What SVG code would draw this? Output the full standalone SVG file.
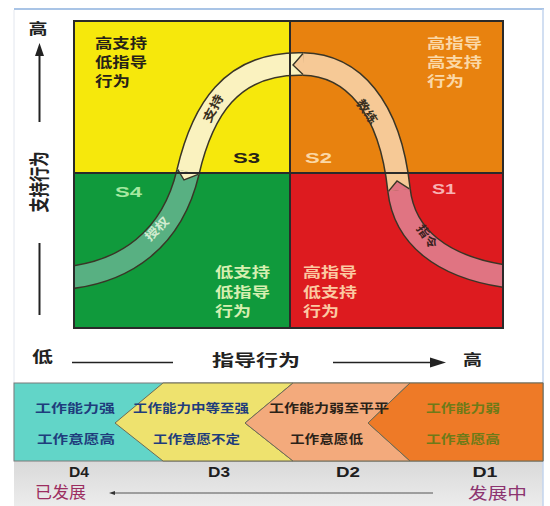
<svg xmlns="http://www.w3.org/2000/svg" width="550" height="506" viewBox="0 0 550 506">
  <defs>
    <style>
      .cjk { font-family: "Noto Sans CJK SC", "Noto Sans", sans-serif; }
      .b { font-weight: bold; }
      .lat { font-family: "Liberation Sans", Arial, sans-serif; }
      .grid { fill: none; stroke: #2a2a2a; stroke-width: 2; }
      .edge { fill: none; stroke: #3a3526; stroke-width: 24; stroke-linecap: butt; }
      .band { fill: none; stroke-width: 21; stroke-linecap: butt; }
      .vee { fill: none; stroke: #3a3526; stroke-width: 1.4; stroke-linejoin: miter; }
      .chev { stroke: #6d6a55; stroke-width: 1; }
      .qt { font-size: 14px; }
      .st { font-size: 12px; }
    </style>
    <clipPath id="gridClip">
      <rect x="74" y="21" width="429" height="307"/>
    </clipPath>
    <linearGradient id="floor" x1="0" y1="0" x2="0" y2="1">
      <stop offset="0" stop-color="#d9d9d9"/>
      <stop offset="1" stop-color="#ececec"/>
    </linearGradient>
  </defs>

  <!-- page -->
  <rect x="0" y="0" width="550" height="506" fill="#ffffff"/>
  <rect x="14" y="461" width="529" height="45" fill="url(#floor)"/>
  <line x1="14" y1="9" x2="544" y2="9" stroke="#a9c4e6" stroke-width="2"/>
  <line x1="543" y1="9" x2="543" y2="506" stroke="#c3d5ee" stroke-width="1.5"/>
  <line x1="14" y1="10" x2="14" y2="461" stroke="#e2e6ee" stroke-width="1"/>

  <!-- quadrants -->
  <g id="quadrants">
    <rect id="q-tl" x="74" y="21" width="216" height="152" fill="#f6e80c"/>
    <rect id="q-tr" x="290" y="21" width="213" height="152" fill="#e8820f"/>
    <rect id="q-bl" x="74" y="173" width="216" height="155" fill="#109a3c"/>
    <rect id="q-br" x="290" y="173" width="213" height="155" fill="#dd1b1f"/>
  </g>

  <!-- leadership curve -->
  <g id="curve" clip-path="url(#gridClip)">
    <path class="edge" d="M66,278 C125,272 172,240 188,172"/>
    <path class="edge" d="M188,172 C202,112 230,62 303,64"/>
    <path class="edge" d="M303,64 C352,65 390,105 399,190"/>
    <path class="edge" d="M399,190 C404,235 440,268 511,277"/>
    <path class="band" stroke="#58b082" d="M66,278 C125,272 172,240 188,172"/>
    <path class="band" stroke="#faf2bf" d="M188,172 C202,112 230,62 303,64"/>
    <path class="band" stroke="#f6c996" d="M303,64 C352,65 390,105 399,190"/>
    <path class="band" stroke="#e07482" d="M399,190 C404,235 440,268 511,277"/>
    <!-- arrow tips between stages -->
    <polygon points="177.8,169.6 184,180 198.2,174.4" fill="#faf2bf"/>
    <polyline class="vee" points="177.8,169.6 184,180 198.2,174.4"/>
    <polygon points="303,53.5 293,65 303,74.5" fill="#f6c996"/>
    <polyline class="vee" points="303,53.5 293,65 303,74.5"/>
    <polygon points="388.6,191.1 397,181 409.4,188.9" fill="#e07482"/>
    <polyline class="vee" points="388.6,191.1 397,181 409.4,188.9"/>
  </g>
  <g id="grid-lines">
    <rect class="grid" x="74" y="21" width="429" height="307"/>
    <line class="grid" x1="290" y1="21" x2="290" y2="328"/>
    <line class="grid" x1="74" y1="173" x2="503" y2="173"/>
  </g>

  <!-- curve labels -->
  <g id="curve-labels" class="cjk b" font-size="12" text-anchor="middle" dominant-baseline="central">
    <text transform="translate(212,108) rotate(-63)" fill="#3a3020" textLength="30" lengthAdjust="spacingAndGlyphs">支持</text>
    <text transform="translate(368,111) rotate(55)" fill="#3a3020" textLength="27" lengthAdjust="spacingAndGlyphs">教练</text>
    <text transform="translate(428,236) rotate(55)" fill="#3a2020" textLength="26" lengthAdjust="spacingAndGlyphs">指令</text>
    <text transform="translate(156,228) rotate(-45)" fill="#d2ecd0" textLength="28" lengthAdjust="spacingAndGlyphs">授权</text>
  </g>

  <!-- quadrant texts -->
  <g id="quad-tl" class="cjk b qt" fill="#262218">
    <text x="95" y="48" textLength="52" lengthAdjust="spacingAndGlyphs">高支持</text>
    <text x="95" y="67" textLength="52" lengthAdjust="spacingAndGlyphs">低指导</text>
    <text x="95" y="86" textLength="35" lengthAdjust="spacingAndGlyphs">行为</text>
    <text class="lat" x="233" y="163" font-size="15" fill="#262218" textLength="27" lengthAdjust="spacingAndGlyphs">S3</text>
  </g>
  <g id="quad-tr" class="cjk b qt" fill="#fbd8a6">
    <text x="427" y="48" textLength="55" lengthAdjust="spacingAndGlyphs">高指导</text>
    <text x="427" y="67" textLength="55" lengthAdjust="spacingAndGlyphs">高支持</text>
    <text x="427" y="86" textLength="37" lengthAdjust="spacingAndGlyphs">行为</text>
    <text class="lat" x="305" y="163" font-size="15" textLength="27" lengthAdjust="spacingAndGlyphs">S2</text>
  </g>
  <g id="quad-bl" class="cjk b qt" fill="#d6efb0">
    <text x="215" y="277" textLength="55" lengthAdjust="spacingAndGlyphs">低支持</text>
    <text x="215" y="297" textLength="55" lengthAdjust="spacingAndGlyphs">低指导</text>
    <text x="215" y="316" textLength="36" lengthAdjust="spacingAndGlyphs">行为</text>
    <text class="lat" x="115" y="197" font-size="15" fill="#a6e8a0" textLength="27" lengthAdjust="spacingAndGlyphs">S4</text>
  </g>
  <g id="quad-br" class="cjk b qt" fill="#fbc9a2">
    <text x="303" y="277" textLength="54" lengthAdjust="spacingAndGlyphs">高指导</text>
    <text x="303" y="297" textLength="54" lengthAdjust="spacingAndGlyphs">低支持</text>
    <text x="303" y="316" textLength="36" lengthAdjust="spacingAndGlyphs">行为</text>
    <text class="lat" x="432" y="194" font-size="15" fill="#f8b2b2" textLength="24" lengthAdjust="spacingAndGlyphs">S1</text>
  </g>

  <!-- vertical axis -->
  <g id="axis-support" fill="#222">
    <text class="cjk b" x="38" y="34" font-size="15" text-anchor="middle" textLength="19" lengthAdjust="spacingAndGlyphs">高</text>
    <polygon points="39.5,43 35,56 44,56"/>
    <line x1="39.5" y1="55" x2="39.5" y2="122" stroke="#222" stroke-width="2"/>
    <text class="cjk b" transform="translate(37,182) scale(1.3,1) rotate(-90)" font-size="16" text-anchor="middle" dominant-baseline="central" textLength="61" lengthAdjust="spacingAndGlyphs">支持行为</text>
    <line x1="39.5" y1="243" x2="39.5" y2="315" stroke="#222" stroke-width="2"/>
  </g>

  <!-- horizontal axis -->
  <g id="axis-direct" fill="#222">
    <text class="cjk b" x="32" y="362" font-size="15" textLength="21" lengthAdjust="spacingAndGlyphs">低</text>
    <line x1="72" y1="362.5" x2="173" y2="362.5" stroke="#222" stroke-width="1.6"/>
    <text class="cjk b" x="212" y="366" font-size="16" textLength="88" lengthAdjust="spacingAndGlyphs">指导行为</text>
    <line x1="333" y1="362.5" x2="432" y2="362.5" stroke="#222" stroke-width="1.6"/>
    <polygon points="446,362.5 430,357.5 430,367.5"/>
    <text class="cjk b" x="463" y="365" font-size="15" textLength="19" lengthAdjust="spacingAndGlyphs">高</text>
  </g>

  <!-- development stages strip -->
  <g id="stages">
    <rect x="14" y="383" width="529" height="78" fill="#62d5c8" stroke="#7a7a7a" stroke-width="1"/>
    <polygon id="stage-d3" class="chev" points="163,383 293,383 245,423 293,461 163,461 115,423" fill="#eee26e"/>
    <polygon id="stage-d2" class="chev" points="293,383 410,383 368,423 410,461 293,461 245,423" fill="#f3aa7c"/>
    <polygon id="stage-d1" class="chev" points="410,383 543,383 543,461 410,461 368,423" fill="#ee7a27"/>
  </g>
  <g id="stage-texts" class="cjk b st">
    <text x="35" y="413" fill="#1f3d7c" textLength="80" lengthAdjust="spacingAndGlyphs">工作能力强</text>
    <text x="37" y="444" fill="#1f3d7c" textLength="78" lengthAdjust="spacingAndGlyphs">工作意愿高</text>
    <text x="133" y="413" fill="#1f3d7c" textLength="116" lengthAdjust="spacingAndGlyphs">工作能力中等至强</text>
    <text x="153" y="444" fill="#1f3d7c" textLength="87" lengthAdjust="spacingAndGlyphs">工作意愿不定</text>
    <text x="269" y="413" fill="#2a2218" textLength="120" lengthAdjust="spacingAndGlyphs">工作能力弱至平平</text>
    <text x="290" y="444" fill="#2a2218" textLength="73" lengthAdjust="spacingAndGlyphs">工作意愿低</text>
    <text x="426" y="413" fill="#6e7a18" textLength="74" lengthAdjust="spacingAndGlyphs">工作能力弱</text>
    <text x="426" y="444" fill="#6e7a18" textLength="74" lengthAdjust="spacingAndGlyphs">工作意愿高</text>
  </g>

  <!-- stage names and direction -->
  <g id="stage-names" class="lat b" font-size="15" fill="#1e1e1e" text-anchor="middle">
    <text x="79" y="477" textLength="20" lengthAdjust="spacingAndGlyphs">D4</text>
    <text x="219" y="477" textLength="22" lengthAdjust="spacingAndGlyphs">D3</text>
    <text x="348" y="477" textLength="24" lengthAdjust="spacingAndGlyphs">D2</text>
    <text x="485" y="477" textLength="25" lengthAdjust="spacingAndGlyphs">D1</text>
  </g>
  <g id="dev-direction">
    <text class="cjk" x="35" y="498" font-size="16" fill="#9c2d60" textLength="51" lengthAdjust="spacingAndGlyphs">已发展</text>
    <line x1="112" y1="493" x2="433" y2="493" stroke="#555" stroke-width="1"/>
    <polygon points="109,493 115,491 115,495" fill="#333"/>
    <text class="cjk" x="468" y="499" font-size="16" fill="#8c3470" textLength="59" lengthAdjust="spacingAndGlyphs">发展中</text>
  </g>
</svg>
